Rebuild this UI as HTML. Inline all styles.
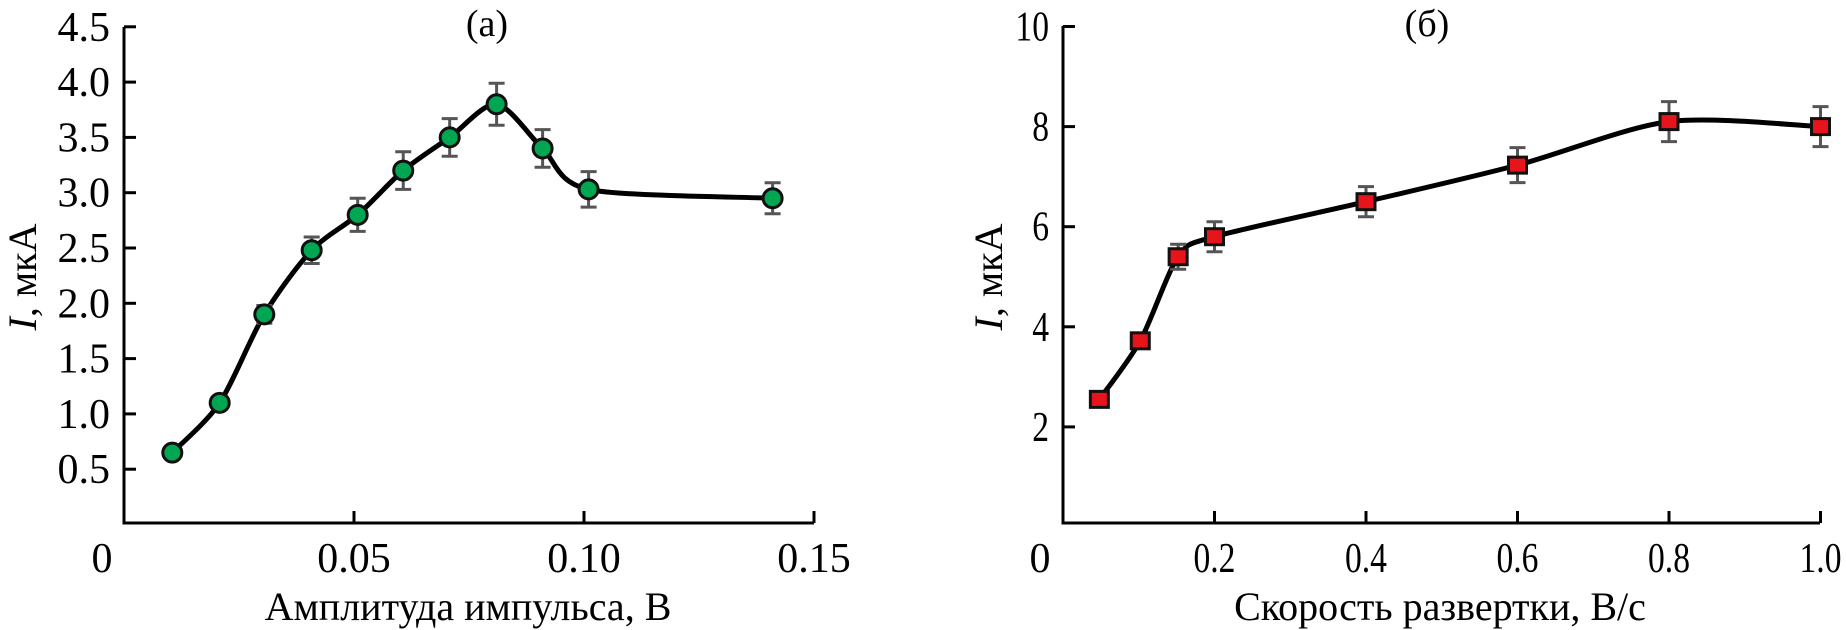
<!DOCTYPE html>
<html><head><meta charset="utf-8"><style>
html,body{margin:0;padding:0;background:#fff;}
svg{display:block;font-family:"Liberation Serif",serif;}
</style></head><body>
<svg width="1846" height="630" viewBox="0 0 1846 630" xmlns="http://www.w3.org/2000/svg">
<g id="ca"></g>
<g id="cb"></g>
</svg>
<script>
const aX=[0.0105,0.0208,0.0305,0.0408,0.0508,0.0607,0.0708,0.081,0.091,0.101,0.141];
const aY=[0.65,1.1,1.9,2.48,2.8,3.2,3.5,3.8,3.4,3.03,2.95];
const aErr=[0,0,0.08,0.12,0.15,0.17,0.17,0.19,0.17,0.16,0.14];
const aYTicks=[0.5,1.0,1.5,2.0,2.5,3.0,3.5,4.0,4.5];
const aXTicks=[0.05,0.10,0.15];
const aXLabels=["0.05","0.10","0.15"];
const bX=[0.048,0.102,0.152,0.2,0.4,0.6,0.8,1.0];
const bY=[2.55,3.72,5.4,5.8,6.5,7.23,8.1,8.0];
const bErr=[0,0.15,0.25,0.3,0.3,0.35,0.4,0.4];
const bYTicks=[2,4,6,8,10];
const bXTicks=[0.2,0.4,0.6,0.8,1.0];
const bXLabels=["0.2","0.4","0.6","0.8","1.0"];
const NS="http://www.w3.org/2000/svg";
function mk(p,t,a,txt){const e=document.createElementNS(NS,t);for(const k in a)e.setAttribute(k,a[k]);if(txt!==undefined)e.textContent=txt;p.appendChild(e);return e;}
function smooth(pts){let d="M"+pts[0][0]+","+pts[0][1];for(let i=0;i<pts.length-1;i++){const p0=pts[Math.max(0,i-1)],p1=pts[i],p2=pts[i+1],p3=pts[Math.min(pts.length-1,i+2)];const t=0.14;d+=" C"+(p1[0]+(p2[0]-p0[0])*t)+","+(p1[1]+(p2[1]-p0[1])*t)+" "+(p2[0]-(p3[0]-p1[0])*t)+","+(p2[1]-(p3[1]-p1[1])*t)+" "+p2[0]+","+p2[1];}return d;}
function chart(g,o){
 const sx=v=>o.x0+v*o.kx, sy=v=>o.y0-v*o.ky;
 const ax=mk(g,"path",{d:`M${o.x0},${o.top} V${o.axY} H${o.right}`,stroke:"#000","stroke-width":3,fill:"none"});
 
 
 o.yt.forEach(v=>{const y=sy(v);const l=mk(g,"line",{x1:o.x0,x2:o.x0+12,y1:y,y2:y,stroke:"#000","stroke-width":3});
  
  
  const t=mk(g,"text",{x:o.x0-14,y:y+14,"text-anchor":"end","font-size":o.fs,transform:o.sq?`translate(${o.x0-14},0) scale(0.8,1) translate(${-(o.x0-14)},0)`:""},o.fmt(v));
  
  });
 o.xt.forEach((v,i)=>{const x=sx(v);const l=mk(g,"line",{x1:x,x2:x,y1:o.axY,y2:o.axY-12,stroke:"#000","stroke-width":3});
  
  
  const t=mk(g,"text",{x:x,y:572,"text-anchor":"middle","font-size":o.fs,transform:o.sq?`translate(${x},0) scale(0.8,1) translate(${-x},0)`:""},o.xl[i]);
  
  });
 const z=mk(g,"text",{x:o.zeroX,y:572,"text-anchor":"middle","font-size":o.fs},"0");
 
 
 const pts=o.xs.map((v,i)=>[sx(v),sy(o.ys[i])]);
 const c=mk(g,"path",{d:smooth(pts),stroke:"#000","stroke-width":5,fill:"none"});
 
 
 pts.forEach((p,i)=>{const e=o.er[i];if(e>0){const y1=sy(o.ys[i]+e),y2=sy(o.ys[i]-e);
  const b=mk(g,"path",{d:`M${p[0]},${y1}V${y2}M${p[0]-8},${y1}h16M${p[0]-8},${y2}h16`,stroke:"#555","stroke-width":3,fill:"none"});
  
  }
  let m;
  if(o.sq){m=mk(g,"rect",{x:p[0]-9,y:p[1]-8,width:18,height:16,fill:"#e8141c",stroke:"#111","stroke-width":3});}
  else{m=mk(g,"circle",{cx:p[0],cy:p[1],r:9.5,fill:"#00a651",stroke:"#111","stroke-width":3});}
  
  });
 const tt=mk(g,"text",{x:o.titleX,y:36,"text-anchor":"middle","font-size":38},o.title);
 
 
 const xt=mk(g,"text",{x:o.xTitleX,y:620,"text-anchor":"middle","font-size":40},o.xTitle);
 
 
 const yt=mk(g,"text",{x:0,y:0,"text-anchor":"middle","font-size":40,transform:`translate(${o.yTitleX},277) rotate(-90)`});
 
 
 mk(yt,"tspan",{"font-style":"italic"},"I");mk(yt,"tspan",{},", мкА");
}
chart(document.getElementById("ca"),{x0:124,kx:4600,y0:524.5,ky:110.6,top:27,axY:523,right:814,yt:aYTicks,xt:aXTicks,xl:aXLabels,fmt:v=>v.toFixed(1),xs:aX,ys:aY,er:aErr,fs:42,zeroX:102,title:"(a)",titleX:487,xTitle:"Амплитуда импульса, В",xTitleX:468,yTitleX:36,sq:false});
chart(document.getElementById("cb"),{x0:1063,kx:757.5,y0:527,ky:50.05,top:26,axY:523,right:1820,yt:bYTicks,xt:bXTicks,xl:bXLabels,fmt:v=>String(v),xs:bX,ys:bY,er:bErr,fs:42,zeroX:1040,title:"(б)",titleX:1427,xTitle:"Скорость развертки, В/с",xTitleX:1440,yTitleX:1002,sq:true});
</script>
</body></html>
